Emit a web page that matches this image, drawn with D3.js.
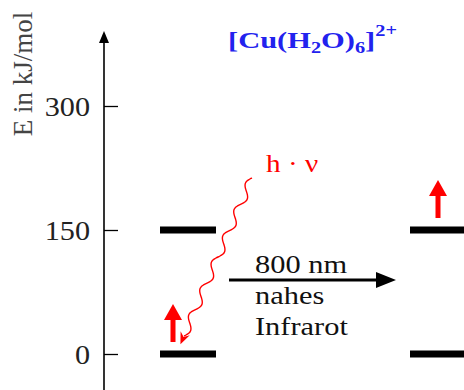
<!DOCTYPE html>
<html>
<head>
<meta charset="utf-8">
<script src="https://cdn.jsdelivr.net/npm/d3@7"></script>
<style>
  body { margin: 0; background: #fff; }
  svg { display: block; }
  text { font-family: "Liberation Serif", "DejaVu Serif", serif; }
</style>
</head>
<body>
<svg id="chart" width="464" height="390"></svg>
<script>
var svg = d3.select("#chart");
var w = 464, h = 390;

// energy axis
var energyTicks = [0, 150, 300];
var axisLabel = "E in kJ/mol";

// orbital levels (kJ/mol) drawn in both columns
var levels = [0, 150];
var columns = ["vorher", "nachher"];

// one electron per column, sitting on a level
var electrons = [
	{column: "vorher", level: 0},
	{column: "nachher", level: 150}
];

// absorbed light
var transition = {from: 0, to: 150, label: "h \u00b7 \u03bd"};
var lightLines = ["800 nm", "nahes", "Infrarot"];

var yScale = d3.scaleLinear().domain([0, 300]).range([354, 106]);
var xScale = d3.scaleOrdinal().domain(columns).range([160, 410]);
var barW = 56;
var stretch = 1.17; // text in the picture is a bit wider than the font

function place(x, y, sx){
	return "translate(" + x + "," + y + ") scale(" + (sx || stretch) + ",1)";
}

// y axis
var axisX = 104;
svg.append("line")
	.attr("x1", axisX).attr("x2", axisX)
	.attr("y1", h).attr("y2", 40)
	.attr("stroke", "#000").attr("stroke-width", 1.6);
svg.append("path")
	.attr("d", "M" + (axisX - 5) + ",43 L" + axisX + ",31 L" + (axisX + 5) + ",43 Z")
	.attr("fill", "#000");

var axis = d3.axisLeft(yScale)
	.tickValues(energyTicks)
	.tickSizeInner(-14)
	.tickSizeOuter(0)
	.tickPadding(14);
var gAxis = svg.append("g").attr("transform", "translate(" + axisX + ",0)").call(axis);
gAxis.select(".domain").remove();
gAxis.selectAll(".tick line").attr("stroke", "#000").attr("stroke-width", 1.3);
gAxis.selectAll(".tick text")
	.attr("x", null).attr("dy", null)
	.attr("transform", place(-14, 9, 1.12))
	.attr("font-size", 27)
	.attr("fill", "#222");

svg.append("text")
	.attr("transform", "translate(32,74) rotate(-90)")
	.attr("text-anchor", "middle")
	.attr("font-size", 27)
	.attr("fill", "#444")
	.text(axisLabel);

// title
var title = svg.append("text")
	.attr("transform", place(228, 48, 1.27))
	.attr("font-size", 24)
	.attr("font-weight", "bold")
	.attr("fill", "#2222ee");
title.append("tspan").text("[Cu(H");
title.append("tspan").attr("dy", 5).attr("font-size", 16).text("2");
title.append("tspan").attr("dy", -5).text("O)");
title.append("tspan").attr("dy", 5).attr("font-size", 16).text("6");
title.append("tspan").attr("dy", -5).text("]");
title.append("tspan").attr("dy", -12).attr("font-size", 16).text("2+");

// level bars
var bars = [];
columns.forEach(function(c){
	levels.forEach(function(l){ bars.push({column: c, level: l}); });
});
svg.selectAll("rect.level")
	.data(bars).enter().append("rect")
	.attr("class", "level")
	.attr("x", function(d){ return xScale(d.column); })
	.attr("y", function(d){ return yScale(d.level) - 3.5; })
	.attr("width", barW)
	.attr("height", 7)
	.attr("fill", "#000");

// electrons (red up arrows)
var offset = {vorher: 13, nachher: 28};
svg.selectAll("path.electron")
	.data(electrons).enter().append("path")
	.attr("class", "electron")
	.attr("fill", "red")
	.attr("d", function(d){
		var cx = xScale(d.column) + offset[d.column];
		var base = yScale(d.level) - 12;
		var top = base - 38;
		return "M" + (cx - 2.5) + "," + base +
			" L" + (cx - 2.5) + "," + (top + 16) +
			" L" + (cx - 9) + "," + (top + 16) +
			" L" + cx + "," + top +
			" L" + (cx + 9) + "," + (top + 16) +
			" L" + (cx + 2.5) + "," + (top + 16) +
			" L" + (cx + 2.5) + "," + base + " Z";
	});

// wavy photon arrow
var p0 = [252, 178], p1 = [184, 336];
var dx = p1[0] - p0[0], dy = p1[1] - p0[1];
var len = Math.sqrt(dx * dx + dy * dy);
var nx = -dy / len, ny = dx / len;
var wave = d3.range(0, 1.0001, 0.005).map(function(t){
	var a = 4 * Math.sin(t * Math.PI * 2 * 6);
	return [p0[0] + dx * t + nx * a, p0[1] + dy * t + ny * a];
});
svg.append("path")
	.attr("d", d3.line().curve(d3.curveBasis)(wave))
	.attr("fill", "none")
	.attr("stroke", "red")
	.attr("stroke-width", 1.4);
var ux = dx / len, uy = dy / len;
var tip = [p1[0] + ux * 9, p1[1] + uy * 9];
svg.append("path")
	.attr("fill", "red")
	.attr("d", "M" + tip[0] + "," + tip[1] +
		" L" + (tip[0] - ux * 12 + nx * 5) + "," + (tip[1] - uy * 12 + ny * 5) +
		" L" + (tip[0] - ux * 8) + "," + (tip[1] - uy * 8) +
		" L" + (tip[0] - ux * 12 - nx * 5) + "," + (tip[1] - uy * 12 - ny * 5) + " Z");

svg.append("text")
	.attr("transform", place(266, 172))
	.attr("font-size", 25)
	.attr("fill", "red")
	.text(transition.label);

// black arrow with light description
var ay = (yScale(transition.from) + yScale(transition.to)) / 2 - 12;
svg.append("line")
	.attr("x1", 229).attr("x2", 380)
	.attr("y1", ay).attr("y2", ay)
	.attr("stroke", "#000").attr("stroke-width", 3);
svg.append("path")
	.attr("d", "M376," + (ay - 8) + " L396," + ay + " L376," + (ay + 8) + " Z")
	.attr("fill", "#000");

svg.selectAll("text.light")
	.data(lightLines).enter().append("text")
	.attr("class", "light")
	.attr("transform", function(d, i){ return place(255, [273, 304, 335][i]); })
	.attr("font-size", 26)
	.attr("fill", "#111")
	.text(function(d){ return d; });
</script>
</body>
</html>
